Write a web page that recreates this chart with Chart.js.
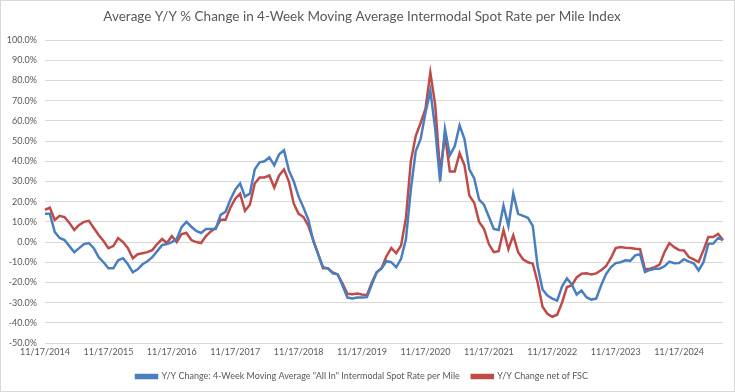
<!DOCTYPE html>
<html>
<head>
<meta charset="utf-8">
<script src="https://cdn.jsdelivr.net/npm/chart.js@4.4.1/dist/chart.umd.min.js"></script>
<style>
    html, body { margin: 0; padding: 0; background: #fff; }
    #wrap {
        width: 735px;
        height: 392px;
        box-sizing: border-box;
        border: 1px solid #d9d9d9;
        position: relative;
    }
    #chart { display: block; }
</style>
</head>
<body>
<div id="wrap"><canvas id="chart" width="733" height="390"></canvas></div>
<script>
// year labels shown on the x axis (one every 13 four-week steps)
const yearLabels = ['11/17/2014', '11/17/2015', '11/17/2016', '11/17/2017', '11/17/2018', '11/17/2019',
    '11/17/2020', '11/17/2021', '11/17/2022', '11/17/2023', '11/17/2024'];

// Y/Y change, 4-week moving average "All In" spot rate (%), read every 4 weeks
const allInChange = [
    14, 14, 5, 2, 1, -2, -5, -3, -1, -0.5, -3, -7.5, -10,
    -13, -13, -9, -8, -11, -15, -13.5, -11, -9.5, -7.5, -4.5, -1.5, -1,
    0, 1.5, 7.4, 10, 7.6, 5.5, 4.5, 6.5, 6.5, 6.5, 13.5, 15, 21,
    26, 29, 22.5, 24, 36, 39.5, 40, 42, 38, 43.5, 45.5, 35.5, 30,
    22.5, 17, 11, 0.5, -6, -12.5, -13, -15.5, -16, -21.5, -27.5, -28, -27.5,
    -27.5, -27.3, -21, -15, -13, -9.5, -10, -12.5, -8.3, 1.5, 26, 45, 51,
    64, 75, 56, 30, 56, 43, 47.5, 57.8, 51, 36, 31.5, 21, 18.5,
    12.5, 6.5, 6, 18, 8, 24, 14, 13, 12, 8, -12, -23.5, -26.5,
    -28, -29, -22, -18, -21, -26, -24, -27.3, -28.5, -28, -21.5, -16, -12.5,
    -10.4, -10, -9, -9.3, -6.6, -6, -14.8, -13.8, -13.2, -13.2, -12, -9.7, -10.5,
    -10.4, -8.5, -9.7, -10.5, -14, -10, -0.8, -0.7, 2, 1
];

// Y/Y change net of fuel surcharge (%), same dates
const netOfFsc = [
    16, 17, 11, 13, 12.4, 9.5, 6, 8.5, 10, 10.5, 7, 3.5, 0.5,
    -3, -2, 2, 0, -3, -8, -6, -5.5, -5, -4, -1, 1.5, -0.5,
    3, 0, 4, 4.5, 1, 0, -0.5, 3, 5.3, 7, 11, 11, 17,
    21.5, 24, 15.5, 18.5, 29, 32, 32, 33, 27, 33, 36, 30, 19,
    14, 12.4, 8, 1, -6, -13, -13, -15, -16, -20.5, -25.6, -25.8, -25.5,
    -26, -26.3, -20, -15, -13, -7, -3, -5.5, -1.7, 12, 40, 52.5, 59,
    66, 84, 68, 34.5, 53, 35, 35, 44, 38, 23, 19.5, 10, 6.6,
    -1, -5, -4.5, 6, -3.5, 3.3, -5, -8.5, -10, -10.7, -20, -32, -35.5,
    -37, -36, -30, -22.3, -21.5, -17.5, -15.7, -15.5, -16, -15.5, -14, -12, -8,
    -3, -2.5, -2.8, -2.9, -3.3, -3.5, -13.5, -13.2, -12.4, -11.2, -5, -0.5, -2.5,
    -4, -4.2, -7.4, -8.6, -9.9, -4, 2.5, 2.5, 4, 1
];

const STEP = 13; // four-week points per year
const labels = allInChange.map((v, i) => i);

const fontFamily = 'Lato, "Open Sans", sans-serif';
const grey = '#595959';

new Chart(document.getElementById('chart'), {
    type: 'line',
    data: {
        labels,
        datasets: [{
            label: 'Y/Y Change: 4-Week Moving Average "All In" Intermodal Spot Rate per Mile',
            data: allInChange,
            borderColor: '#4a7ebf',
            backgroundColor: '#4a7ebf',
            borderWidth: 2.5,
            pointRadius: 0,
            tension: 0
        }, {
            label: 'Y/Y Change net of FSC',
            data: netOfFsc,
            borderColor: '#be4b48',
            backgroundColor: '#be4b48',
            borderWidth: 2.5,
            pointRadius: 0,
            tension: 0
        }]
    },
    options: {
        responsive: false,
        animation: false,
        layout: { padding: { top: 0, right: 11, bottom: 0, left: 0 } },
        plugins: {
            title: {
                display: true,
                text: 'Average Y/Y % Change in 4-Week Moving Average Intermodal Spot Rate per Mile Index',
                color: grey,
                font: { family: fontFamily, size: 13.5, weight: 'normal' },
                padding: { top: 8, bottom: 15 }
            },
            legend: {
                position: 'bottom',
                labels: {
                    color: grey,
                    boxWidth: 21,
                    boxHeight: 3,
                    padding: 12,
                    font: { family: fontFamily, size: 9 }
                }
            },
            tooltip: { enabled: false }
        },
        scales: {
            x: {
                grid: { display: false, drawTicks: false },
                border: { display: false },
                ticks: {
                    color: grey,
                    autoSkip: false,
                    maxRotation: 0,
                    font: { family: fontFamily, size: 9 },
                    padding: 4,
                    callback: (v, i) => (i % STEP === 0 ? yearLabels[i / STEP] : null)
                },
                afterFit: scale => { scale.height = 17; }
            },
            y: {
                min: -50,
                max: 100,
                grid: { color: '#d9d9d9', drawTicks: false },
                border: { display: false },
                ticks: {
                    stepSize: 10,
                    color: grey,
                    padding: 8,
                    font: { family: fontFamily, size: 9 },
                    callback: v => v.toFixed(1) + '%'
                },
                afterFit: scale => { scale.width = 44; }
            }
        }
    }
});
</script>
</body>
</html>
